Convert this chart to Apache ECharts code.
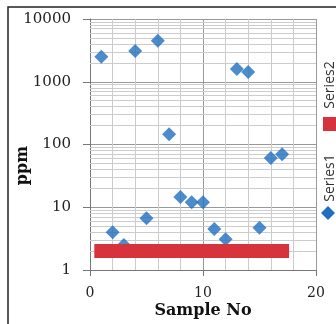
<!DOCTYPE html>
<meta charset="utf-8">
<style>
  html, body { margin: 0; padding: 0; background: #fff; }
  #chart { width: 336px; height: 324px; }
</style>
<body>
<div id="chart"></div>
<script src="https://cdn.jsdelivr.net/npm/echarts@6/dist/echarts.min.js"></script>
<script>

// sample numbers and values
var sampleNo = [1, 2, 3, 4, 5, 6, 7, 8, 9, 10, 11, 12, 13, 14, 15, 16, 17];
var series1 = [2500, 4, 2.5, 3100, 6.7, 4500, 145, 14.5, 12, 12, 4.5, 3.1, 1600, 1430, 4.7, 61, 70];
var series2 = [2, 2, 2, 2, 2, 2, 2, 2, 2, 2, 2, 2, 2, 2, 2, 2, 2];
var legendNames = ['Series1', 'Series2'];

var blue = '#1f6fc0',
    red = '#d7333d';

// log minor gridlines (2..9 in each decade)
var minorLines = [];
[1, 10, 100, 1000].forEach(function (d) {
  for (var k = 2; k <= 9; k++) minorLines.push({ yAxis: k * d });
});

var chart = echarts.init(document.getElementById('chart'), null, { renderer: 'canvas' });

var serif = 'DejaVu Serif';

var option = {
  animation: false,
  backgroundColor: '#fff',
  grid: { left: 90, right: 20, top: 19, bottom: 54, containLabel: false, outerBoundsMode: 'none' },
  xAxis: {
    type: 'value',
    min: 0, max: 20, interval: 10,
    name: 'Sample No',
    nameLocation: 'middle',
    nameGap: 33,
    nameMoveOverlap: false,
    nameTextStyle: { fontFamily: serif, fontWeight: 'bold', fontSize: 16, color: '#111' },
    axisLine: { lineStyle: { color: '#777', width: 1 } },
    axisTick: { show: true, length: 6, lineStyle: { color: '#777' } },
    axisLabel: { fontFamily: serif, fontSize: 14, color: '#222', margin: 16 },
    splitLine: { show: true, lineStyle: { color: '#999', width: 1 } },
    minorTick: { show: false, splitNumber: 5 },
    minorSplitLine: { show: true, lineStyle: { color: '#ccc', width: 1 } }
  },
  yAxis: {
    type: 'log',
    logBase: 10,
    min: 1, max: 10000,
    name: 'ppm',
    nameLocation: 'middle',
    nameRotate: 90,
    nameGap: 59,
    nameMoveOverlap: false,
    nameTextStyle: { fontFamily: serif, fontWeight: 'bold', fontSize: 16, color: '#111',
                     padding: [0, 42, 0, 0] },
    axisLine: { show: true, lineStyle: { color: '#777', width: 1 } },
    axisTick: { show: true, length: 7, lineStyle: { color: '#777' } },
    axisLabel: {
      fontFamily: serif, fontSize: 15, color: '#222', margin: 19,
      formatter: function (v) { return String(Math.round(v)); }
    },
    splitLine: { show: true, lineStyle: { color: '#999', width: 1 } }
  },
  series: [
    {
      name: 'grid',
      type: 'scatter',
      data: [],
      silent: true,
      z: 1,
      markLine: {
        silent: true,
        z: 1,
        symbol: ['none', 'none'],
        label: { show: false },
        lineStyle: { color: '#ccc', width: 1, type: 'solid' },
        emphasis: { disabled: true },
        data: minorLines
      }
    },
    {
      name: legendNames[0],
      type: 'scatter',
      z: 10,
      symbol: 'diamond',
      symbolSize: [14, 14],
      itemStyle: { color: blue },
      data: sampleNo.map(function (x, i) { return [x, series1[i]]; })
    },
    {
      name: legendNames[1],
      type: 'line',
      z: 11,
      symbol: 'none',
      lineStyle: { color: red, width: 14, cap: 'square' },
      data: sampleNo.map(function (x, i) { return [x, series2[i]]; })
    }
  ],
  graphic: [
    {
      type: 'rect',
      shape: { x: 8, y: 7, width: 400, height: 400 },
      style: { fill: 'none', stroke: '#222', lineWidth: 1.5 },
      silent: true
    },
    {
      type: 'text',
      x: 330, y: 85, rotation: Math.PI / 2,
      style: { text: legendNames[1], fontFamily: 'Open Sans', fontSize: 14, fill: '#333',
               align: 'center', verticalAlign: 'middle' }
    },
    {
      type: 'rect',
      shape: { x: 323, y: 117, width: 13, height: 14 },
      style: { fill: red }
    },
    {
      type: 'text',
      x: 330, y: 178, rotation: Math.PI / 2,
      style: { text: legendNames[0], fontFamily: 'Open Sans', fontSize: 14, fill: '#333',
               align: 'center', verticalAlign: 'middle' }
    },
    {
      type: 'polygon',
      shape: { points: [[328, 206], [335, 213], [328, 220], [321, 213]] },
      style: { fill: blue }
    }
  ]
};

chart.setOption(option);
window.addEventListener('resize', chart.resize);
</script>
</body>
